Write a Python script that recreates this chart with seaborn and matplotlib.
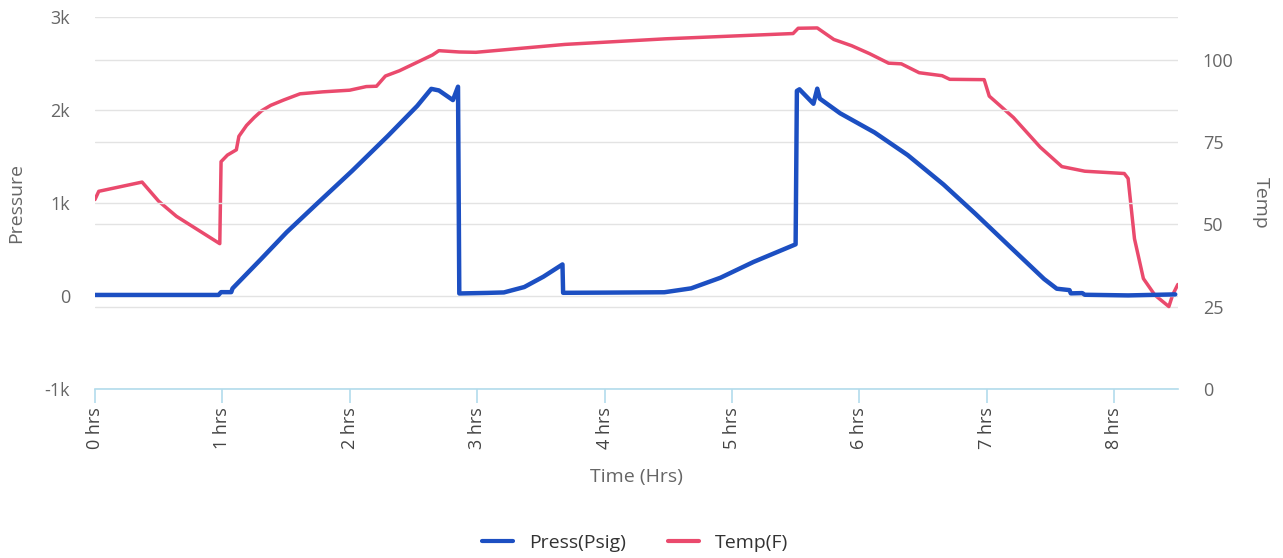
import matplotlib
matplotlib.use("Agg")
import matplotlib.pyplot as plt
from matplotlib.lines import Line2D
import seaborn as sns
import pandas as pd

# pressure series (hrs, psig)
press_hrs = [0.0, 0.97, 0.99, 1.07, 1.08, 1.3, 1.505, 1.75, 2.02, 2.3, 2.53, 2.64,
             2.70, 2.81, 2.85, 2.86, 3.08, 3.21, 3.37, 3.52, 3.67, 3.675, 4.0, 4.47,
             4.68, 4.91, 5.17, 5.50, 5.51, 5.53, 5.64, 5.67, 5.69, 5.85, 6.12, 6.38,
             6.66, 6.91, 7.18, 7.45, 7.55, 7.65, 7.66, 7.75, 7.77, 8.11, 8.48]
press_psig = [10, 10, 40, 40, 80, 390, 684, 1000, 1345, 1720, 2042, 2225,
              2208, 2104, 2248, 26, 32, 37, 95, 206, 338, 33, 35, 39,
              81, 195, 365, 554, 2203, 2220, 2065, 2227, 2120, 1962, 1756, 1513,
              1198, 884, 532, 182, 77, 62, 27, 30, 12, 5, 16]

# temperature series (hrs, F)
temp_hrs = [0.0, 0.03, 0.37, 0.50, 0.64, 0.98, 0.99, 1.04, 1.11, 1.13, 1.19, 1.25,
            1.31, 1.38, 1.48, 1.61, 1.79, 2.0, 2.13, 2.21, 2.28, 2.39, 2.52, 2.65,
            2.70, 2.86, 2.99, 3.69, 4.48, 5.48, 5.52, 5.67, 5.80, 5.94, 6.08, 6.23,
            6.33, 6.47, 6.65, 6.71, 6.98, 7.02, 7.21, 7.42, 7.59, 7.77, 8.08, 8.11,
            8.16, 8.23, 8.32, 8.43, 8.46, 8.50]
temp_f = [57.5, 60, 62.8, 57.0, 52.4, 44.1, 69.0, 71.0, 72.6, 76.7, 80.0, 82.4,
          84.5, 86.1, 87.7, 89.6, 90.2, 90.7, 91.8, 91.9, 95.0, 96.6, 99.0, 101.4,
          102.7, 102.3, 102.2, 104.6, 106.3, 107.9, 109.5, 109.6, 106.1, 104.2, 101.8, 98.9,
          98.7, 96.0, 95.1, 94.0, 93.9, 88.9, 82.4, 73.4, 67.5, 66.1, 65.4, 63.9,
          45.6, 33.5, 28.5, 25.0, 28.6, 31.7]

hr_ticks = list(range(9))
press_ticks = [-1000, 0, 1000, 2000, 3000]
press_labels = ["-1k", "0", "1k", "2k", "3k"]
temp_ticks = [0, 25, 50, 75, 100]

blue = "#1c4fc2"
red = "#ea4a6d"
grid_c = "#e3e3e3"
axis_c = "#b3dcec"
label_c = "#666666"

sns.set_theme(style="white")
plt.rcParams["font.family"] = ["Open Sans", "DejaVu Sans"]

press_df = pd.DataFrame({"hrs": press_hrs, "psig": press_psig})
temp_df = pd.DataFrame({"hrs": temp_hrs, "temp": temp_f})

fig = plt.figure(figsize=(12.83, 5.58), dpi=100)
ax = fig.add_axes([0.074, 0.303, 0.844, 0.667])
ax2 = ax.twinx()

sns.lineplot(data=press_df, x="hrs", y="psig", ax=ax, color=blue, linewidth=3.2,
             estimator=None, sort=False, zorder=3)
sns.lineplot(data=temp_df, x="hrs", y="temp", ax=ax2, color=red, linewidth=2.5,
             estimator=None, sort=False, zorder=3)
ax.set_zorder(2)
ax.patch.set_visible(False)

ax.set_xlim(0, 8.5)
ax.set_ylim(-1000, 3000)
ax2.set_ylim(0, 113)

ax.set_yticks(press_ticks)
ax.set_yticklabels(press_labels)
ax2.set_yticks(temp_ticks)
ax.set_xticks(hr_ticks)
ax.set_xticklabels([f"{h} hrs" for h in hr_ticks], rotation=90)

for a in (ax, ax2):
    for s in a.spines.values():
        s.set_visible(False)
    a.yaxis.grid(True, color=grid_c, linewidth=1)
    a.tick_params(axis="y", length=0, colors=label_c, labelsize=13, pad=18)
ax.spines["bottom"].set_visible(True)
ax.spines["bottom"].set_color(axis_c)
ax.spines["bottom"].set_linewidth(1.2)
ax.tick_params(axis="x", direction="out", length=10, width=1.2, color=axis_c,
               labelsize=13, pad=3)
for t in ax.get_xticklabels():
    t.set_color("#444444")
ax.xaxis.set_ticks_position("bottom")

ax.set_xlabel("Time (Hrs)", color=label_c, fontsize=14, labelpad=14)
ax.set_ylabel("Pressure", color=label_c, fontsize=14, labelpad=14)
ax2.set_ylabel("Temp", color=label_c, fontsize=14, rotation=270, labelpad=26)

handles = [Line2D([], [], color=blue, linewidth=3),
           Line2D([], [], color=red, linewidth=3)]
fig.legend(handles, ["Press(Psig)", "Temp(F)"], loc="lower center",
           bbox_to_anchor=(0.495, -0.02), ncol=2, frameon=False, fontsize=14,
           handlelength=1.6, columnspacing=2.2, labelcolor="#333333")

fig.savefig("out.png", dpi=100)
